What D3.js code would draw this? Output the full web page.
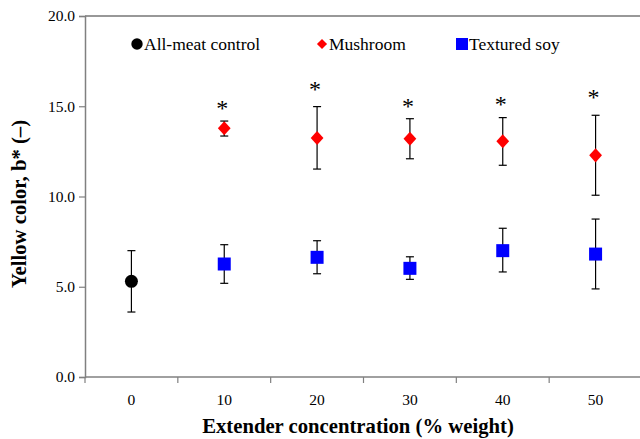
<!DOCTYPE html>
<html>
<head>
<meta charset="utf-8">
<script src="https://cdn.jsdelivr.net/npm/d3@7"></script>
<style>
  body { margin: 0; background: #fff; }
  svg { display: block; }
  svg text { font-family: "Liberation Serif", "DejaVu Serif", serif; }
</style>
</head>
<body>
<svg id="chart" width="640" height="439"></svg>
<script>
// categories (% weight of extender)
var categories = ['0', '10', '20', '30', '40', '50']

// all-meat control
var controlX = ['0']
var controlMean = [5.3]
var controlHi = [7.0]
var controlLo = [3.6]

// mushroom extended
var mushX = ['10', '20', '30', '40', '50']
var mushMean = [13.78, 13.24, 13.2, 13.06, 12.28]
var mushHi = [14.18, 14.98, 14.31, 14.37, 14.5]
var mushLo = [13.35, 11.52, 12.09, 11.73, 10.07]

// textured soy extended
var soyX = ['10', '20', '30', '40', '50']
var soyMean = [6.26, 6.63, 6.02, 7.0, 6.81]
var soyHi = [7.33, 7.55, 6.66, 8.24, 8.75]
var soyLo = [5.19, 5.72, 5.41, 5.82, 4.88]

// significance marks (*) placed above mushroom bars
var starX = ['10', '20', '30', '40', '50']
var starY = [15.1, 16.15, 15.25, 15.33, 15.72]

var yTicks = [0, 5, 10, 15, 20]

;(function () {
  var svg = d3.select('#chart')
  var serif = 'Liberation Serif'
  var margin = {top: 16, left: 85, bottom: 62, right: -2}
  var width = 640 - margin.left - margin.right
  var height = 439 - margin.top - margin.bottom

  var g = svg.append('g')
      .attr('transform', `translate(${margin.left},${margin.top})`)

  var x = d3.scaleBand()
      .domain(categories)
      .range([0, width])
      .padding(0)

  var y = d3.scaleLinear()
      .domain([0, 20])
      .range([height, 0])

  // frame: top border
  g.append('line')
      .attr('x1', 0).attr('x2', width)
      .attr('y1', 0).attr('y2', 0)
      .attr('stroke', '#333').attr('stroke-width', 1.2)

  // y axis
  var yAxis = d3.axisLeft(y).tickValues(yTicks).tickSize(6).tickPadding(4)
      .tickFormat(d3.format('.1f'))
  var ya = g.append('g').call(yAxis).attr('font-family', serif)
  ya.select('.domain').attr('stroke', '#808080').attr('stroke-width', 1.5)
  ya.selectAll('.tick line').attr('stroke', '#808080').attr('stroke-width', 1.2)
  ya.selectAll('text').attr('font-size', 15.5).attr('fill', '#000')
      .attr('font-family', serif)

  // x axis: ticks at band boundaries
  var xa = g.append('g').attr('transform', `translate(0,${height})`)
  xa.append('line')
      .attr('x1', 0).attr('x2', width)
      .attr('stroke', '#808080').attr('stroke-width', 1.5)
  xa.selectAll('.bnd').data(categories).enter().append('line')
      .attr('x1', d => x(d)).attr('x2', d => x(d))
      .attr('y1', 0).attr('y2', 6)
      .attr('stroke', '#808080').attr('stroke-width', 1.2)
  xa.selectAll('text').data(categories).enter().append('text')
      .attr('x', d => x(d) + x.bandwidth() / 2)
      .attr('y', 28)
      .attr('text-anchor', 'middle')
      .attr('font-family', serif)
      .attr('font-size', 15.5)
      .text(d => d)

  // axis titles
  svg.append('text')
      .attr('x', 358)
      .attr('y', 433)
      .attr('text-anchor', 'middle')
      .attr('font-family', serif)
      .attr('font-size', 20.7)
      .attr('font-weight', 'bold')
      .text('Extender concentration (% weight)')

  svg.append('text')
      .attr('transform', 'translate(26,204) rotate(-90)')
      .attr('text-anchor', 'middle')
      .attr('font-family', serif)
      .attr('font-size', 20.7)
      .attr('font-weight', 'bold')
      .text('Yellow color, b* (\u2013)')

  var cx = d => x(d) + x.bandwidth() / 2

  function errorBars (xs, hi, lo) {
    var eb = g.append('g').attr('stroke', '#000').attr('stroke-width', 1.2)
    eb.selectAll('line.v').data(xs).enter().append('line')
        .attr('x1', cx).attr('x2', cx)
        .attr('y1', (d, i) => y(hi[i])).attr('y2', (d, i) => y(lo[i]))
    eb.selectAll('line.t').data(xs).enter().append('line')
        .attr('x1', d => cx(d) - 4).attr('x2', d => cx(d) + 4)
        .attr('y1', (d, i) => y(hi[i])).attr('y2', (d, i) => y(hi[i]))
    eb.selectAll('line.b').data(xs).enter().append('line')
        .attr('x1', d => cx(d) - 4).attr('x2', d => cx(d) + 4)
        .attr('y1', (d, i) => y(lo[i])).attr('y2', (d, i) => y(lo[i]))
  }

  errorBars(controlX, controlHi, controlLo)
  errorBars(mushX, mushHi, mushLo)
  errorBars(soyX, soyHi, soyLo)

  // markers
  g.selectAll('circle.ctl').data(controlX).enter().append('circle')
      .attr('cx', cx).attr('cy', (d, i) => y(controlMean[i]))
      .attr('r', 6.5).attr('fill', '#000')

  var diamond = d3.symbol().type(d3.symbolDiamond2).size(115)
  g.selectAll('path.mush').data(mushX).enter().append('path')
      .attr('d', diamond)
      .attr('transform', (d, i) => `translate(${cx(d)},${y(mushMean[i])}) scale(0.95,1.05)`)
      .attr('fill', '#ff0000')

  g.selectAll('rect.soy').data(soyX).enter().append('rect')
      .attr('x', d => cx(d) - 6.5).attr('y', (d, i) => y(soyMean[i]) - 6.5)
      .attr('width', 13).attr('height', 13)
      .attr('fill', '#0000ff')

  // significance stars
  g.selectAll('text.star').data(starX).enter().append('text')
      .attr('x', d => cx(d) - 2)
      .attr('y', (d, i) => y(starY[i]) + 12)
      .attr('text-anchor', 'middle')
      .attr('font-family', 'Liberation Sans')
      .attr('font-size', 24)
      .text('*')

  // legend
  var legend = svg.append('g').attr('font-size', 17.5).attr('font-family', serif)
  var ly = 44
  legend.append('circle').attr('cx', 137).attr('cy', ly).attr('r', 5.7).attr('fill', '#000')
  legend.append('text').attr('x', 144).attr('y', ly + 5.5).text('All-meat control')
  legend.append('path')
      .attr('d', d3.symbol().type(d3.symbolDiamond2).size(65))
      .attr('transform', `translate(322,${ly})`)
      .attr('fill', '#ff0000')
  legend.append('text').attr('x', 329).attr('y', ly + 5.5).text('Mushroom')
  legend.append('rect').attr('x', 456).attr('y', ly - 6).attr('width', 12).attr('height', 12)
      .attr('fill', '#0000ff')
  legend.append('text').attr('x', 469).attr('y', ly + 5.5).text('Textured soy')
})()
</script>
</body>
</html>
